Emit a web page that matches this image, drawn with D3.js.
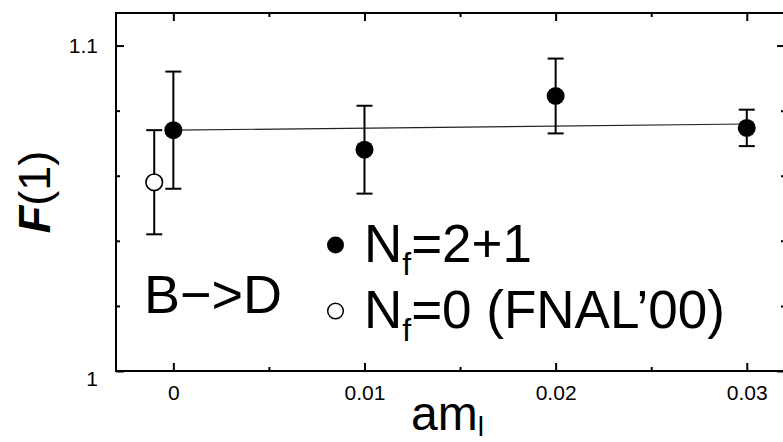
<!DOCTYPE html>
<html>
<head>
<meta charset="utf-8">
<script src="https://cdn.jsdelivr.net/npm/d3@7"></script>
<style>
  body { margin: 0; background: #fff; }
  svg { display: block; font-family: "Liberation Sans", Arial, sans-serif; }
</style>
</head>
<body>
<svg id="vis" width="783" height="442"></svg>
<script>
// N_f = 2+1 points
const amL = [0, 0.01, 0.02, 0.03];
const f1 = [1.074, 1.068, 1.0845, 1.0747];
const f1Err = [0.018, 0.0135, 0.0115, 0.0056];

// N_f = 0 (FNAL'00)
const quenchedAm = [-0.001];
const quenchedF1 = [1.058];
const quenchedErr = [0.016];

// linear fit through the 2+1 points
const fitAm = [0, 0.03];
const fitF1 = [1.074, 1.0759];

const xMajor = [0, 0.01, 0.02, 0.03];
const xMinor = [0.005, 0.015, 0.025];
const yMajor = [1, 1.1];
const yMinor = [1.02, 1.04, 1.06, 1.08];

const svg = d3.select("svg#vis");
const box = { left: 116, right: 785, top: 13, bottom: 371 };

const x = d3.scaleLinear().domain([-0.003, 0.032]).range([box.left, box.right]);
const y = d3.scaleLinear().domain([1.0, 1.11]).range([box.bottom, box.top]);

// frame
svg.append("rect")
  .attr("x", box.left).attr("y", box.top)
  .attr("width", box.right - box.left).attr("height", box.bottom - box.top)
  .attr("fill", "none").attr("stroke", "#000").attr("stroke-width", 2);

function drawAxis(axis, tx, ty, labels) {
  const g = svg.append("g").attr("transform", `translate(${tx},${ty})`).call(axis);
  g.select(".domain").remove();
  g.selectAll(".tick line").attr("stroke", "#000").attr("stroke-width", 2);
  if (!labels) g.selectAll(".tick text").remove();
  else g.selectAll(".tick text").attr("fill", "#000").attr("font-size", 21)
    .attr("font-family", "Liberation Sans, Arial, sans-serif");
  return g;
}

const fmt = d3.format("");

// bottom
drawAxis(d3.axisBottom(x).tickValues(xMajor).tickSize(-8).tickPadding(14).tickFormat(fmt), 0, box.bottom, true);
drawAxis(d3.axisBottom(x).tickValues(xMinor).tickSize(-4), 0, box.bottom, false);
// top
drawAxis(d3.axisTop(x).tickValues(xMajor).tickSize(-8), 0, box.top, false);
drawAxis(d3.axisTop(x).tickValues(xMinor).tickSize(-4), 0, box.top, false);
// left
const yAx = drawAxis(d3.axisLeft(y).tickValues(yMajor).tickSize(-8).tickPadding(18).tickFormat(fmt), box.left, 0, true);
yAx.selectAll(".tick text").filter(d => d === 1).attr("dy", "0.7em");
drawAxis(d3.axisLeft(y).tickValues(yMinor).tickSize(-4), box.left, 0, false);
// right
drawAxis(d3.axisRight(y).tickValues(yMajor).tickSize(-8), box.right, 0, false);
drawAxis(d3.axisRight(y).tickValues(yMinor).tickSize(-4), box.right, 0, false);

// fit line
svg.append("path")
  .datum(d3.zip(fitAm, fitF1))
  .attr("d", d3.line().x(d => x(d[0])).y(d => y(d[1])))
  .attr("fill", "none").attr("stroke", "#222").attr("stroke-width", 1.2);

function drawPoints(xs, ys, es, filled) {
  const pts = d3.zip(xs, ys, es);
  const g = svg.append("g");
  const cap = 8;
  const eb = g.selectAll("g.err").data(pts).enter().append("g").attr("class", "err")
    .attr("stroke", "#000").attr("stroke-width", 2);
  eb.append("line")
    .attr("x1", d => x(d[0])).attr("x2", d => x(d[0]))
    .attr("y1", d => y(d[1] - d[2])).attr("y2", d => y(d[1] + d[2]));
  eb.append("line")
    .attr("x1", d => x(d[0]) - cap).attr("x2", d => x(d[0]) + cap)
    .attr("y1", d => y(d[1] + d[2])).attr("y2", d => y(d[1] + d[2]));
  eb.append("line")
    .attr("x1", d => x(d[0]) - cap).attr("x2", d => x(d[0]) + cap)
    .attr("y1", d => y(d[1] - d[2])).attr("y2", d => y(d[1] - d[2]));
  g.selectAll("circle").data(pts).enter().append("circle")
    .attr("cx", d => x(d[0])).attr("cy", d => y(d[1]))
    .attr("r", filled ? 9 : 8.3)
    .attr("fill", filled ? "#000" : "#fff")
    .attr("stroke", "#000").attr("stroke-width", filled ? 0 : 1.6);
}

drawPoints(quenchedAm, quenchedF1, quenchedErr, false);
drawPoints(amL, f1, f1Err, true);

// legend
const legend = svg.append("g");
legend.append("circle").attr("cx", 335.5).attr("cy", 245).attr("r", 8.5).attr("fill", "#000");
legend.append("circle").attr("cx", 335.5).attr("cy", 311).attr("r", 7.8)
  .attr("fill", "#fff").attr("stroke", "#000").attr("stroke-width", 1.5);

function subText(xp, yp, main, sub, rest, size, subSize, shift) {
  const t = svg.append("text").attr("x", xp).attr("y", yp)
    .attr("font-size", size).attr("fill", "#000");
  t.append("tspan").text(main);
  t.append("tspan").attr("font-size", subSize).attr("dy", shift).text(sub);
  if (rest) t.append("tspan").attr("dy", -shift).text(rest);
  return t;
}

subText(364, 262, "N", "f", "=2+1", 53, 32, 13);
subText(364, 328, "N", "f", "=0 (FNAL\u201900)", 53, 32, 13);

svg.append("text").attr("x", 144).attr("y", 313)
  .attr("font-size", 54).attr("fill", "#000").text("B\u2212>D");

// axis titles (subscript kept inside the picture)
subText(411, 430, "am", "l", null, 48, 28, 6);

const yl = svg.append("text")
  .attr("transform", "translate(50,192) rotate(-90)")
  .attr("text-anchor", "middle")
  .attr("font-size", 45).attr("fill", "#000");
yl.append("tspan").attr("font-weight", "bold").attr("font-style", "italic").text("F");
yl.append("tspan").text("(1)");
</script>
</body>
</html>
